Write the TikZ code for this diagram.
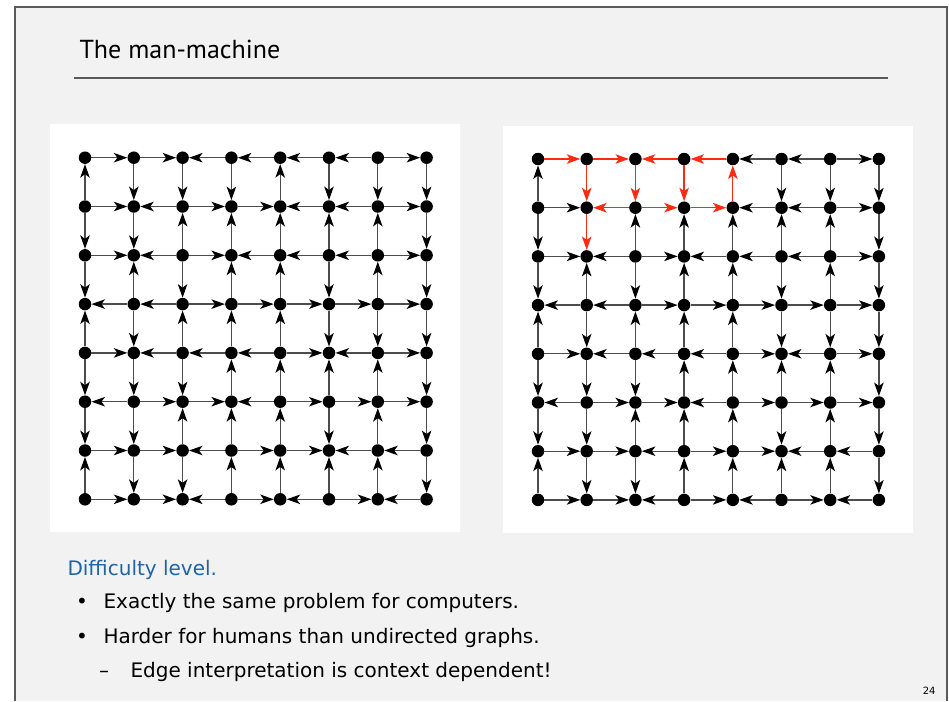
\documentclass[tikz,border=0pt]{standalone}
\usepackage{fontspec}
\setmainfont{DejaVu Sans}
\newfontfamily\titlefont{PT Sans}
\usetikzlibrary{arrows.meta}
\definecolor{slidebg}{HTML}{F2F2F2}
\definecolor{framegray}{HTML}{5A5A5A}
\definecolor{headblue}{HTML}{1F64A5}
\definecolor{pathred}{HTML}{FF2A10}

% edge directions, horizontal: 1 = left to right, 0 = right to left
\def\hdirs{{1,1,0,0,0,0,1},{1,0,1,1,0,0,1},{1,0,1,0,0,0,1},{0,0,1,1,1,1,1},
  {1,0,0,0,1,0,1},{0,1,1,0,1,1,1},{1,1,0,1,1,0,0},{1,1,0,1,0,1,0}}
% vertical: 1 = downwards, 0 = upwards
\def\vdirs{{0,1,1,1,0,1,1,1},{1,1,0,0,0,0,0,1},{1,0,1,0,0,1,0,1},{0,1,0,0,0,1,1,1},
  {1,1,1,0,0,0,0,1},{1,1,0,0,0,1,0,1},{0,1,1,0,0,0,0,1}}
% edges of the highlighted path
\foreach \k in {R-h-0-0,R-h-0-1,R-h-0-2,R-h-0-3,R-h-1-1,R-h-1-2,R-h-1-3,
  R-v-0-1,R-v-0-2,R-v-0-3,R-v-0-4,R-v-1-1}{\expandafter\gdef\csname red-\k\endcsname{}}

\newcommand{\gridedge}[4]{%
  \ifcsname red-#4\endcsname\def\lcol{pathred}\def\tcol{pathred}\else\def\lcol{black!70}\def\tcol{black}\fi
  \ifnum#3=1\relax \draw[edge={\lcol}{\tcol}] (#1) -- (#2);\else \draw[edge={\lcol}{\tcol}] (#2) -- (#1);\fi}

\newcommand{\manmachine}[4]{%
  \foreach \r in {0,...,7}
    \foreach \c in {0,...,7}
      \node[dot] (#1-\r-\c) at ({#2+\c*#4},{#3+\r*#4}) {};
  \foreach \dirs [count=\r from 0] in \hdirs
    \foreach \d [count=\c from 0] in \dirs {
      \pgfmathtruncatemacro\nxt{\c+1}
      \gridedge{#1-\r-\c}{#1-\r-\nxt}{\d}{#1-h-\r-\c}
    }
  \foreach \dirs [count=\r from 0] in \vdirs
    \foreach \d [count=\c from 0] in \dirs {
      \pgfmathtruncatemacro\nxt{\r+1}
      \gridedge{#1-\r-\c}{#1-\nxt-\c}{\d}{#1-v-\r-\c}
    }
}

\begin{document}
\begin{tikzpicture}[x=1pt,y=-1pt,
    dot/.style={circle,fill=black,inner sep=0pt,minimum size=12.5pt},
    edge/.style 2 args={draw=#1,line width=1.3pt,-{Stealth[length=13.5pt,width=9.5pt,inset=3.5pt,color=#2]}},
    panel/.style={fill=white},
    body/.style={anchor=base west,font=\fontsize{20}{24}\selectfont}]
  \useasboundingbox (0,0) rectangle (949,701);
  \fill[white] (0,0) rectangle (949,701);
  \fill[slidebg] (15,7) rectangle (947,701);
  \draw[framegray,line width=1.3pt] (15,701) -- (15,7) -- (947,7) -- (947,701);

  % title
  \node[anchor=base west,font=\titlefont\fontsize{26}{30}\selectfont] (title) at (76,59) {The man-machine};
  \draw[framegray,line width=1.3pt] (74,78) -- (888,78);

  % the two grids
  \fill[panel] (50,124) rectangle (460,532);
  \fill[panel] (503,126) rectangle (913,533);
  \manmachine{L}{85}{157.7}{48.8}
  \manmachine{R}{538}{159}{48.7}

  % text
  \node[body,text=headblue] (level) at (64,575) {Difficulty level.};
  \node[body] (b1) at (100,608) {Exactly the same problem for computers.};
  \node[body] (b2) at (100,643) {Harder for humans than undirected graphs.};
  \node[body] (b3) at (127,677) {Edge interpretation is context dependent!};
  \node[body,anchor=base] at (82,608) {•};
  \node[body,anchor=base] at (82,643) {•};
  \node[body,anchor=base] at (104,677) {–};
  \node[anchor=base east,font=\fontsize{10}{12}\selectfont] (page) at (939,694) {24};
\end{tikzpicture}
\end{document}
